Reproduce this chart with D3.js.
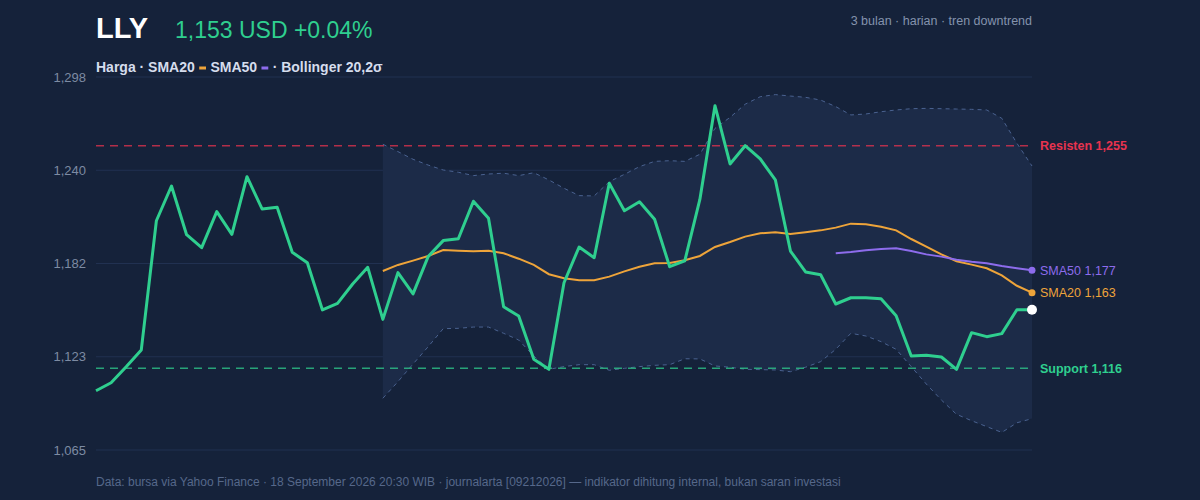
<!DOCTYPE html>
<html>
<head>
<meta charset="utf-8">
<script src="https://cdn.jsdelivr.net/npm/d3@7"></script>
<style>
  body { margin: 0; background: #15223a; }
  svg { display: block; font-family: "Liberation Sans", Arial, sans-serif; }
</style>
</head>
<body>
<script>
// harga penutupan harian (63 hari)
var price = [1102.0, 1107.0, 1117.0, 1127.5, 1208.2, 1229.9, 1199.5, 1191.4, 1213.9, 1199.7,
             1235.7, 1215.6, 1216.6, 1188.5, 1182.0, 1152.5, 1156.6, 1168.7, 1179.1, 1146.6,
             1175.8, 1162.5, 1185.8, 1195.8, 1197.0, 1220.4, 1209.7, 1154.5, 1148.7, 1121.7,
             1115.4, 1169.5, 1191.8, 1185.1, 1231.6, 1214.5, 1220.1, 1209.1, 1179.5, 1183.1,
             1221.5, 1280.1, 1243.7, 1255.1, 1246.8, 1233.7, 1189.3, 1176.2, 1174.5, 1156.2,
             1160.1, 1160.1, 1159.5, 1148.9, 1123.7, 1124.2, 1123.1, 1115.4, 1138.3, 1135.8,
             1137.7, 1152.6, 1152.6];

// SMA20 mulai hari ke-19
var sma20Start = 19;
var sma20 = [1176.8, 1180.6, 1183.3, 1186.2, 1189.9, 1189.5, 1189.1, 1189.5, 1187.9, 1184.5,
             1180.6, 1174.8, 1172.3, 1171.0, 1171.0, 1173.3, 1176.6, 1179.5, 1181.6, 1181.8,
             1183.5, 1186.2, 1191.8, 1194.9, 1198.3, 1200.4, 1201.0, 1199.9, 1201.0, 1202.2,
             1203.9, 1206.4, 1206.0, 1204.5, 1202.2, 1196.8, 1192.0, 1187.2, 1182.9, 1180.8,
             1178.5, 1174.1, 1167.6, 1163.3];

// SMA50 mulai hari ke-49
var sma50Start = 49;
var sma50 = [1187.9, 1188.7, 1189.8, 1190.6, 1191.0, 1189.3, 1187.2, 1185.8, 1183.9, 1182.6,
             1181.6, 1179.9, 1178.5, 1177.3];

// Bollinger 20,2σ (mulai hari ke-19)
var bbUpper = [1256.0, 1251.4, 1246.6, 1243.0, 1239.9, 1238.5, 1236.4, 1237.4, 1237.9, 1236.4,
               1238.2, 1233.7, 1228.5, 1223.9, 1223.7, 1232.6, 1237.2, 1242.0, 1245.3, 1245.7,
               1245.3, 1249.7, 1265.9, 1272.8, 1281.0, 1285.7, 1287.0, 1286.1, 1285.3, 1283.6,
               1279.5, 1274.3, 1274.9, 1276.3, 1277.4, 1278.2, 1278.4, 1278.2, 1278.0, 1277.8,
               1277.4, 1272.2, 1256.6, 1242.4];
var bbLower = [1097.3, 1107.7, 1118.7, 1129.5, 1140.8, 1141.0, 1141.8, 1141.8, 1137.9, 1133.7,
               1123.7, 1115.4, 1117.1, 1118.3, 1118.3, 1114.8, 1116.0, 1117.1, 1117.9, 1118.3,
               1122.0, 1121.9, 1117.5, 1116.7, 1115.4, 1115.2, 1115.0, 1113.9, 1116.7, 1120.2,
               1127.9, 1137.9, 1136.2, 1132.7, 1127.9, 1117.1, 1106.2, 1096.2, 1087.3, 1083.3,
               1079.6, 1076.0, 1082.0, 1084.6];

var resistance = 1255, support = 1116;
var yDomain = [1065, 1298];

window.onload = function(){

    var w = 1200, h = 500;
    var left = 96, right = 1032, top = 77, bottom = 450;

    var svg = d3.select("body").append("svg")
        .attr("width", w)
        .attr("height", h);

    svg.append("rect")
        .attr("width", w).attr("height", h)
        .style("fill", "#15223a");

    var x = d3.scaleLinear().domain([0, price.length - 1]).range([left, right]);
    var y = d3.scaleLinear().domain(yDomain).range([bottom, top]);
    var fmt = d3.format(",.0f");

    // grid + y labels, 5 ticks spaced evenly
    var ticks = d3.range(5).map(function(i){
        return yDomain[0] + i * (yDomain[1] - yDomain[0]) / 4;
    });

    svg.selectAll(".grid")
        .data(ticks).enter()
        .append("line")
        .attr("x1", left).attr("x2", right)
        .attr("y1", function(d){ return y(d); })
        .attr("y2", function(d){ return y(d); })
        .style("stroke", "#213151")
        .style("stroke-width", 1);

    svg.selectAll(".ylab")
        .data(ticks).enter()
        .append("text")
        .attr("x", left - 10)
        .attr("y", function(d){ return y(d) + 4.5; })
        .attr("text-anchor", "end")
        .style("font-size", "13px")
        .style("fill", "#7d8ba3")
        .text(function(d){ return fmt(d); });

    // bollinger band
    var bb = bbUpper.map(function(u, i){
        return { i: i + sma20Start, u: u, l: bbLower[i] };
    });

    svg.append("path")
        .datum(bb)
        .attr("d", d3.area()
            .x(function(d){ return x(d.i); })
            .y0(function(d){ return y(d.l); })
            .y1(function(d){ return y(d.u); }))
        .style("fill", "#1c2b48");

    var bbLine = function(key){
        svg.append("path")
            .datum(bb)
            .attr("d", d3.line()
                .x(function(d){ return x(d.i); })
                .y(function(d){ return y(d[key]); }))
            .style("fill", "none")
            .style("stroke", "#4a6290")
            .style("stroke-width", 1)
            .style("stroke-dasharray", "4,4");
    };
    bbLine("u");
    bbLine("l");

    // support / resistance
    var level = function(v, color, label){
        svg.append("line")
            .attr("x1", left).attr("x2", right)
            .attr("y1", y(v)).attr("y2", y(v))
            .style("stroke", color)
            .style("stroke-opacity", 0.75)
            .style("stroke-width", 1.5)
            .style("stroke-dasharray", "8,6");
        svg.append("text")
            .attr("x", right + 8)
            .attr("y", y(v) + 4.5)
            .style("font-size", "12.5px")
            .style("font-weight", "bold")
            .style("fill", color)
            .text(label + " " + fmt(v));
    };
    level(resistance, "#e8334f", "Resisten");
    level(support, "#2fcf8f", "Support");

    // moving averages
    var maLine = function(data, start, color){
        svg.append("path")
            .datum(data)
            .attr("d", d3.line()
                .x(function(d, i){ return x(i + start); })
                .y(function(d){ return y(d); }))
            .style("fill", "none")
            .style("stroke", color)
            .style("stroke-width", 2);
    };
    maLine(sma20, sma20Start, "#eea43a");
    maLine(sma50, sma50Start, "#8d6cec");

    // price
    svg.append("path")
        .datum(price)
        .attr("d", d3.line()
            .x(function(d, i){ return x(i); })
            .y(function(d){ return y(d); }))
        .style("fill", "none")
        .style("stroke", "#2fcf8f")
        .style("stroke-width", 3)
        .style("stroke-linejoin", "round");

    // end markers + labels
    var last = price.length - 1;
    var ends = [
        { v: sma50[sma50.length - 1], color: "#8d6cec", name: "SMA50" },
        { v: sma20[sma20.length - 1], color: "#eea43a", name: "SMA20" }
    ];
    ends.forEach(function(e){
        svg.append("circle")
            .attr("cx", x(last)).attr("cy", y(e.v))
            .attr("r", 3.5)
            .style("fill", e.color);
        svg.append("text")
            .attr("x", right + 8)
            .attr("y", y(e.v) + 4.5)
            .style("font-size", "12.5px")
            .style("fill", e.color)
            .text(e.name + " " + fmt(e.v));
    });

    svg.append("circle")
        .attr("cx", x(last)).attr("cy", y(price[last]))
        .attr("r", 5)
        .style("fill", "#ffffff");

    // header
    svg.append("text")
        .attr("x", left).attr("y", 38)
        .style("font-size", "29px")
        .style("font-weight", "bold")
        .style("fill", "#ffffff")
        .text("LLY");

    svg.append("text")
        .attr("x", 175).attr("y", 38)
        .style("font-size", "23px")
        .style("fill", "#2fcf8f")
        .text(fmt(price[last]) + " USD +0.04%");

    svg.append("text")
        .attr("x", right).attr("y", 25)
        .attr("text-anchor", "end")
        .style("font-size", "12.5px")
        .style("fill", "#8493ad")
        .text("3 bulan · harian · tren downtrend");

    // legend: text with short colour bars drawn over placeholder dashes
    var leg = svg.append("text")
        .attr("x", left).attr("y", 72)
        .style("font-size", "14px")
        .style("font-weight", "bold")
        .style("fill", "#d5dded");
    var parts = [
        { t: "Harga · SMA20 " },
        { t: "–", c: "#eea43a" },
        { t: " SMA50 " },
        { t: "–", c: "#8d6cec" },
        { t: " · Bollinger 20,2σ" }
    ];
    var pos = 0;
    parts.forEach(function(p){
        var ts = leg.append("tspan").text(p.t);
        if (p.c) {
            ts.style("fill", "none");
            p.idx = pos;
        }
        pos += p.t.length;
    });
    parts.forEach(function(p){
        if (!p.c) return;
        var ext = leg.node().getExtentOfChar(p.idx);
        svg.append("rect")
            .attr("x", ext.x + 0.5)
            .attr("y", 66.5)
            .attr("width", ext.width - 1)
            .attr("height", 3)
            .style("fill", p.c);
    });

    // footer
    svg.append("text")
        .attr("x", left).attr("y", 486)
        .style("font-size", "12px")
        .style("fill", "#56688a")
        .text("Data: bursa via Yahoo Finance · 18 September 2026 20:30 WIB · journalarta [09212026] — indikator dihitung internal, bukan saran investasi");
};
</script>
</body>
</html>
